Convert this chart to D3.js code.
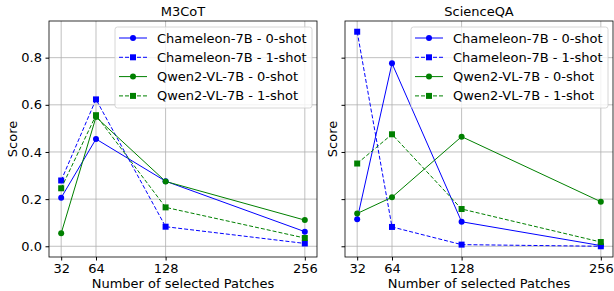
<!DOCTYPE html>
<html>
<head>
<meta charset="utf-8">
<script src="https://cdn.jsdelivr.net/npm/d3@7"></script>
<style>
  body { margin: 0; background: #fff; }
  svg text { font-family: "DejaVu Sans", sans-serif; fill: #000; }
</style>
</head>
<body>
<div id="chart"></div>
<script>
// data
const patches = [32, 64, 128, 256];
const yTicks = [0.0, 0.2, 0.4, 0.6, 0.8];

const seriesNames = ["Chameleon-7B - 0-shot", "Chameleon-7B - 1-shot", "Qwen2-VL-7B - 0-shot", "Qwen2-VL-7B - 1-shot"];

const m3cotCham0 = [0.206, 0.455, 0.276, 0.062];
const m3cotCham1 = [0.279, 0.623, 0.083, 0.012];
const m3cotQwen0 = [0.055, 0.548, 0.275, 0.111];
const m3cotQwen1 = [0.246, 0.556, 0.165, 0.035];

const sqaCham0 = [0.115, 0.776, 0.104, 0.003];
const sqaCham1 = [0.910, 0.082, 0.007, 0.0];
const sqaQwen0 = [0.139, 0.208, 0.465, 0.189];
const sqaQwen1 = [0.351, 0.475, 0.158, 0.018];

const styles = [
  {color: "#0000ff", dash: null, marker: "circle"},
  {color: "#0000ff", dash: "4,2", marker: "square"},
  {color: "#008000", dash: null, marker: "circle"},
  {color: "#008000", dash: "4,2", marker: "square"}
];

const panels = [
  {title: "M3CoT", series: [m3cotCham0, m3cotCham1, m3cotQwen0, m3cotQwen1], left: 49, right: 317, showTickLabels: true, legendX: 115},
  {title: "ScienceQA", series: [sqaCham0, sqaCham1, sqaQwen0, sqaQwen1], left: 345, right: 613, showTickLabels: false, legendX: 411}
];

const width = 614, height = 291;
const plotTop = 21, plotBottom = 257;

const svg = d3.select("#chart").append("svg")
    .attr("width", width)
    .attr("height", height);

// shared y scale (sharey), x with matplotlib-like 5% margins
const y = d3.scaleLinear().domain([-0.0455, 0.9555]).range([plotBottom, plotTop]);

panels.forEach(p => {
  const x = d3.scaleLinear().domain([20.8, 267.2]).range([p.left, p.right]);
  const g = svg.append("g");

  // grid
  g.selectAll("line.vgrid").data(patches).join("line")
    .attr("x1", d => x(d)).attr("x2", d => x(d))
    .attr("y1", plotTop).attr("y2", plotBottom)
    .attr("stroke", "#b0b0b0").attr("stroke-width", 0.8);
  g.selectAll("line.hgrid").data(yTicks).join("line")
    .attr("x1", p.left).attr("x2", p.right)
    .attr("y1", d => y(d)).attr("y2", d => y(d))
    .attr("stroke", "#b0b0b0").attr("stroke-width", 0.8);

  // axes
  const xAxis = g.append("g")
    .attr("transform", `translate(0,${plotBottom})`)
    .call(d3.axisBottom(x).tickValues(patches).tickSize(3.5).tickPadding(3.5).tickSizeOuter(0));
  xAxis.select(".domain").remove();
  xAxis.selectAll("text").style("font-size", "13px");

  const yAxis = g.append("g")
    .attr("transform", `translate(${p.left},0)`)
    .call(d3.axisLeft(y).tickValues(yTicks).tickFormat(p.showTickLabels ? d3.format(".1f") : "").tickSize(3.5).tickPadding(3.5));
  yAxis.select(".domain").remove();
  yAxis.selectAll("text").style("font-size", "13px");

  // lines and markers
  p.series.forEach((vals, i) => {
    const s = styles[i];
    const pts = patches.map((d, j) => [d, vals[j]]);
    g.append("path")
      .datum(pts)
      .attr("fill", "none")
      .attr("stroke", s.color)
      .attr("stroke-width", 1)
      .attr("stroke-dasharray", s.dash)
      .attr("d", d3.line().x(d => x(d[0])).y(d => y(d[1])));
    if (s.marker === "circle") {
      g.selectAll(null).data(pts).join("circle")
        .attr("cx", d => x(d[0])).attr("cy", d => y(d[1]))
        .attr("r", 3).attr("fill", s.color);
    } else {
      g.selectAll(null).data(pts).join("rect")
        .attr("x", d => x(d[0]) - 3).attr("y", d => y(d[1]) - 3)
        .attr("width", 6).attr("height", 6).attr("fill", s.color);
    }
  });

  // frame
  g.append("rect")
    .attr("x", p.left).attr("y", plotTop)
    .attr("width", p.right - p.left).attr("height", plotBottom - plotTop)
    .attr("fill", "none").attr("stroke", "#000").attr("stroke-width", 0.8);

  // title & labels
  g.append("text")
    .attr("x", (p.left + p.right) / 2).attr("y", 16)
    .attr("text-anchor", "middle").style("font-size", "13px")
    .text(p.title);
  g.append("text")
    .attr("x", (p.left + p.right) / 2).attr("y", 288)
    .attr("text-anchor", "middle").style("font-size", "13px")
    .text("Number of selected Patches");
  g.append("text")
    .attr("transform", `translate(${p.showTickLabels ? 17 : p.left - 8},${(plotTop + plotBottom) / 2}) rotate(-90)`)
    .attr("text-anchor", "middle").style("font-size", "13px")
    .text("Score");

  // legend
  const lg = g.append("g").attr("transform", `translate(${p.legendX},27)`);
  const legW = p.right - 5 - p.legendX;
  lg.append("rect")
    .attr("width", legW).attr("height", 81).attr("rx", 2.5)
    .attr("fill", "#fff").attr("fill-opacity", 0.8)
    .attr("stroke", "#cccccc").attr("stroke-width", 0.8);
  seriesNames.forEach((name, i) => {
    const s = styles[i];
    const ry = 11 + i * 19.3;
    lg.append("line")
      .attr("x1", 4).attr("x2", 32).attr("y1", ry).attr("y2", ry)
      .attr("stroke", s.color).attr("stroke-width", 1)
      .attr("stroke-dasharray", s.dash);
    if (s.marker === "circle") {
      lg.append("circle").attr("cx", 18).attr("cy", ry).attr("r", 3).attr("fill", s.color);
    } else {
      lg.append("rect").attr("x", 15).attr("y", ry - 3).attr("width", 6).attr("height", 6).attr("fill", s.color);
    }
    lg.append("text")
      .attr("x", 42).attr("y", ry + 4.5)
      .style("font-size", "13px")
      .text(name);
  });
});
</script>
</body>
</html>
